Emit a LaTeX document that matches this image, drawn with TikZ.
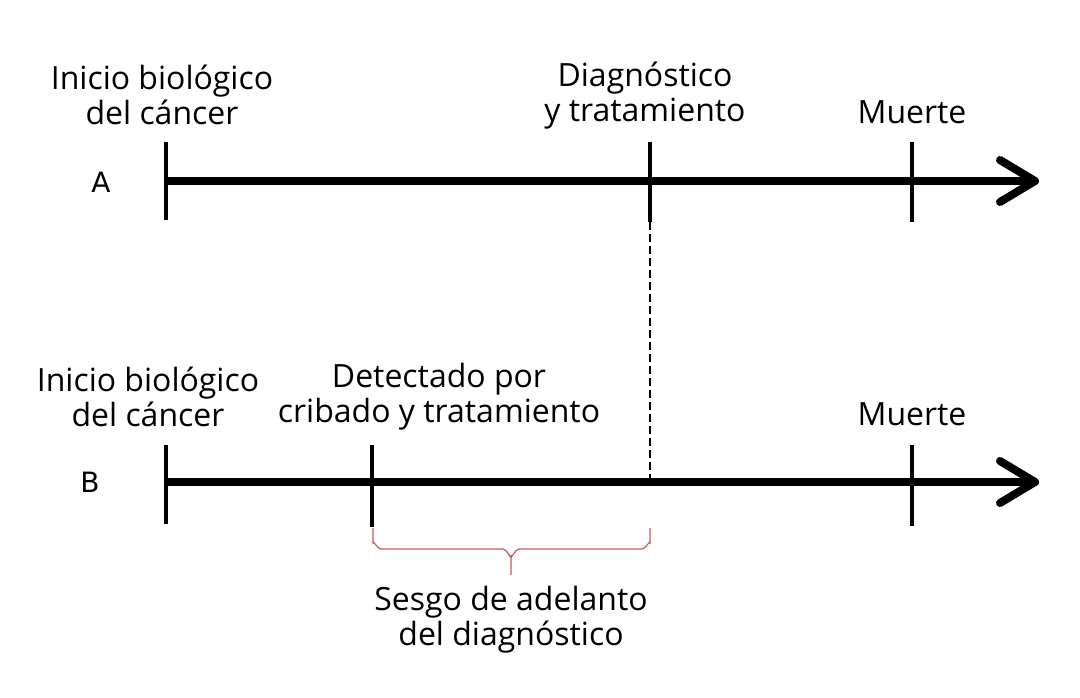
\documentclass[tikz,border=0pt]{standalone}
\usepackage{fontspec}
\setmainfont{Open Sans}
\newfontfamily\labfont{DejaVu Sans}
\definecolor{bracered}{RGB}{200,90,90}
\begin{document}
\begin{tikzpicture}[x=0.75pt,y=-0.75pt,
  axis/.style={line width=6pt},
  tick/.style={line width=3pt},
  chev/.style={line width=6pt,line cap=round,line join=round},
  lab/.style={font=\fontsize{24}{26.3}\selectfont,align=center,inner sep=0pt},
  rowlab/.style={font=\labfont\fontsize{21}{22}\selectfont,inner sep=0pt}]
\useasboundingbox (0,0) rectangle (1080,697);
% Row A
\coordinate (a0) at (166,181);
\coordinate (aend) at (1035,181);
\draw[axis] (a0) -- (1030,181);
\draw[chev] (1000,160) -- (aend) -- (1000,202);
\draw[tick] (166,142) -- (166,220);
\draw[tick] (650,142) -- (650,222);
\draw[tick] (912,142) -- (912,222);
\node[rowlab] (A) at (101,182) {A};
\node[lab] (ta1) at (162,95) {Inicio biológico\\del cáncer};
\node[lab] (ta2) at (645,96) {Diagnóstico\\y tratamiento};
\node[lab] (ta3) at (912,112) {Muerte};
% Row B
\coordinate (b0) at (166,482);
\coordinate (bend) at (1035,482);
\draw[axis] (b0) -- (1030,482);
\draw[chev] (1000,461) -- (bend) -- (1000,503);
\draw[tick] (166,445) -- (166,524);
\draw[tick] (372,445) -- (372,527);
\draw[tick] (912,445) -- (912,526);
\node[rowlab] (B) at (90,482) {B};
\node[lab] (tb1) at (148,397) {Inicio biológico\\del cáncer};
\node[lab] (tb2) at (439,397) {Detectado por\\cribado y tratamiento};
\node[lab] (tb3) at (912,414) {Muerte};
% dashed link
\coordinate (d1) at (650,222);
\coordinate (d2) at (650,482);
\draw[line width=1.3pt,dash pattern=on 6pt off 3pt] (d1) -- (d2);
% brace
\draw[bracered,line width=0.9pt] (373,528) -- (373,543) to[out=90,in=180] (381,549) -- (503,549) to[out=0,in=-90] (511,556) -- (511,575)
  (511,556) to[out=-90,in=180] (519,549) -- (642,549) to[out=0,in=90] (650,543) -- (650,528);
\node[lab] (tc) at (511,620) {Sesgo de adelanto\\del diagnóstico};
\end{tikzpicture}
\end{document}
